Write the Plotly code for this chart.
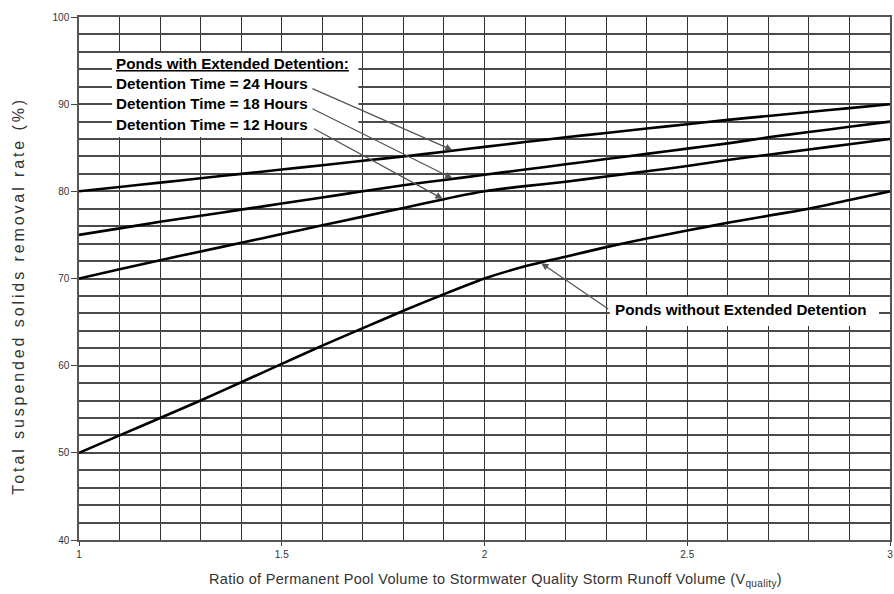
import numpy as np
import plotly.graph_objects as go

# ---- data ----
ratio = [1.0, 1.1, 1.2, 1.3, 1.4, 1.5, 1.6, 1.7, 1.8, 1.9, 2.0,
         2.1, 2.2, 2.3, 2.4, 2.5, 2.6, 2.7, 2.8, 2.9, 3.0]
tss_24h = [80.0, 80.5, 81.0, 81.5, 82.0, 82.5, 83.0, 83.5, 84.0, 84.55, 85.1,
           85.65, 86.2, 86.7, 87.2, 87.7, 88.2, 88.65, 89.1, 89.55, 90.0]
tss_18h = [75.0, 75.75, 76.5, 77.2, 77.9, 78.6, 79.3, 80.0, 80.7, 81.3, 81.9,
           82.5, 83.1, 83.7, 84.3, 84.9, 85.5, 86.2, 86.8, 87.4, 88.0]
tss_12h = [70.0, 71.05, 72.1, 73.1, 74.1, 75.1, 76.1, 77.1, 78.1, 79.1, 80.0,
           80.6, 81.1, 81.7, 82.3, 82.9, 83.6, 84.2, 84.8, 85.4, 86.0]
tss_noed = [50.0, 52.0, 54.0, 56.0, 58.1, 60.2, 62.3, 64.3, 66.3, 68.2, 70.0,
            71.4, 72.5, 73.6, 74.6, 75.5, 76.4, 77.2, 78.0, 79.0, 80.0]

x_ticks = [1, 1.5, 2, 2.5, 3]
x_tick_labels = ["1", "1.5", "2", "2.5", "3"]
y_ticks = [40, 50, 60, 70, 80, 90, 100]

ed_title = "Ponds with Extended Detention:"
ed_labels = ["Detention Time = 24 Hours", "Detention Time = 18 Hours", "Detention Time = 12 Hours"]
noed_label = "Ponds without Extended Detention"
x_title = "Ratio of Permanent Pool Volume to Stormwater Quality Storm Runoff Volume (V<sub>quality</sub>)"
y_title = "Total suspended solids removal rate (%)"

FONT = "Liberation Sans, Arial, sans-serif"
LABEL_SIZE = 15.2

fig = go.Figure()
for ys in [tss_24h, tss_18h, tss_12h, tss_noed]:
    fig.add_trace(go.Scatter(x=ratio, y=ys, mode="lines",
                             line=dict(color="black", width=2.6, shape="spline", smoothing=0.6),
                             showlegend=False, hoverinfo="skip"))

# white boxes hiding the grid behind the labels
fig.add_shape(type="rect", x0=1.0815, x1=1.689, y0=86.23, y1=95.87,
              fillcolor="white", line_width=0, layer="above")
fig.add_shape(type="rect", x0=2.309, x1=2.973, y0=64.55, y1=67.88,
              fillcolor="white", line_width=0, layer="above")

# text labels
txt_x = 1.086
line_y = [94.72, 92.37, 90.02, 87.67]
fig.add_annotation(x=txt_x, y=line_y[0], xref="x", yref="y", xanchor="left", yanchor="middle",
                   text="<b><u>" + ed_title + "</u></b>", showarrow=False,
                   font=dict(family=FONT, size=LABEL_SIZE, color="black"))
for lab, yy in zip(ed_labels, line_y[1:]):
    fig.add_annotation(x=txt_x, y=yy, xref="x", yref="y", xanchor="left", yanchor="middle",
                       text="<b>" + lab + "</b>", showarrow=False,
                       font=dict(family=FONT, size=LABEL_SIZE, color="black"))
fig.add_annotation(x=2.318, y=66.39, xref="x", yref="y", xanchor="left", yanchor="middle",
                   text="<b>" + noed_label + "</b>", showarrow=False,
                   font=dict(family=FONT, size=LABEL_SIZE, color="black"))

# arrows: heads on the curves, tails at the label ends
arrows = [
    (tss_24h, 1.923, 1.572, 91.85),
    (tss_18h, 1.923, 1.572, 89.56),
    (tss_12h, 1.899, 1.576, 87.27),
    (tss_noed, 2.138, 2.309, 66.39),
]
for ys, xh, xt, yt in arrows:
    yh = float(np.interp(xh, ratio, ys))
    fig.add_annotation(x=xh, y=yh, ax=xt, ay=yt, xref="x", yref="y", axref="x", ayref="y",
                       text="", showarrow=True, arrowhead=2, arrowsize=1.1, arrowwidth=1.3,
                       arrowcolor="#555555", standoff=1)

# axis titles
fig.add_annotation(x=0.514, y=-0.076, xref="paper", yref="paper", xanchor="center", yanchor="middle",
                   text='<span style="letter-spacing:0.3px">' + x_title + "</span>", showarrow=False,
                   font=dict(family=FONT, size=14.5, color="#333333"))
fig.add_annotation(x=-0.0757, y=0.4665, xref="paper", yref="paper", xanchor="center", yanchor="middle",
                   text='<span style="letter-spacing:2.9px">' + y_title + "</span>", textangle=-90,
                   showarrow=False, font=dict(family=FONT, size=16, color="#333333"))

fig.update_layout(
    width=894, height=594,
    margin=dict(l=79, r=4, t=17, b=54),
    paper_bgcolor="white", plot_bgcolor="white",
    font=dict(family=FONT, color="#333333"),
    showlegend=False,
)
fig.update_xaxes(
    range=[1, 3], tickvals=x_ticks, ticktext=x_tick_labels, automargin=False,
    ticklabeloverflow="allow",
    showgrid=True, gridcolor="#333333", gridwidth=1.4,
    minor=dict(dtick=0.1, tick0=1, showgrid=True, gridcolor="#333333", gridwidth=1.4,
               ticks=""),
    ticks="outside", ticklen=4, tickcolor="#444444",
    showline=True, linecolor="#555555", linewidth=1.5, mirror=True,
    tickfont=dict(family=FONT, size=10, color="#333333"),
    zeroline=False,
)
fig.update_yaxes(
    range=[40, 100], tickvals=y_ticks, automargin=False,
    showgrid=True, gridcolor="#4a4a4a", gridwidth=1.8,
    minor=dict(dtick=2, tick0=40, showgrid=True, gridcolor="#4a4a4a", gridwidth=1.8, ticks=""),
    ticks="outside", ticklen=6, tickcolor="#444444",
    showline=True, linecolor="#555555", linewidth=1.5, mirror=True,
    tickfont=dict(family=FONT, size=10, color="#333333"),
    zeroline=False,
)

fig.write_html("out.html", config={"displayModeBar": False},
               post_script="document.body.style.margin='0px';document.body.style.padding='0px';")
